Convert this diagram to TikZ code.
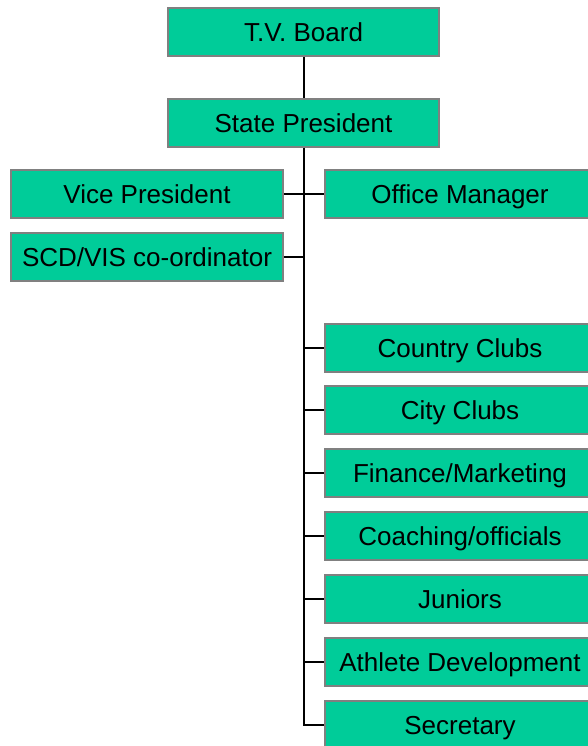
\documentclass[tikz,border=0pt]{standalone}
\usepackage{fontspec}
\setmainfont{Liberation Sans}
\definecolor{boxfill}{HTML}{00CC99}
\definecolor{boxline}{HTML}{808080}
\begin{document}
\begin{tikzpicture}[x=1pt,y=-1pt,
  orgbox/.style={draw=boxline,line width=1.8pt,fill=boxfill,rectangle,minimum height=48pt,inner sep=0pt,
    text height=18.6pt,text depth=0pt,font=\fontsize{26}{31}\selectfont},
  midbox/.style={orgbox,minimum width=271pt},
  leftbox/.style={orgbox,minimum width=272pt},
  rightbox/.style={orgbox,minimum width=270pt},
  link/.style={draw=black,line width=2pt}]
\useasboundingbox (0,0) rectangle (588,746);
\clip (0,0) rectangle (588,746);
\node[midbox] (tv) at (303.5,32) {T.V. Board};
\node[midbox] (sp) at (303.5,123) {State President};
\node[leftbox] (vp) at (147,194) {Vice President};
\node[leftbox] (scd) at (147,257) {SCD/VIS co-ordinator};
\node[rightbox] (om) at (460,194) {Office Manager};
\node[rightbox] (cc) at (460,348) {Country Clubs};
\node[rightbox] (ci) at (460,410) {City Clubs};
\node[rightbox] (fm) at (460,473) {Finance/Marketing};
\node[rightbox] (co) at (460,536) {Coaching/officials};
\node[rightbox] (ju) at (460,599) {Juniors};
\node[rightbox] (ad) at (460,662) {Athlete Development};
\node[rightbox] (se) at (460,725) {Secretary};
\draw[link] (tv.south) -- (sp.north);
\draw[link] (sp.south) -- (sp.south |- se.west) -- (se.west);
\draw[link] (vp.east) -- (om.west);
\draw[link] (scd.east) -- (scd.east -| sp.south);
\foreach \n in {cc,ci,fm,co,ju,ad}{
  \draw[link] (\n.west -| sp.south) -- (\n.west);
}
\end{tikzpicture}
\end{document}
